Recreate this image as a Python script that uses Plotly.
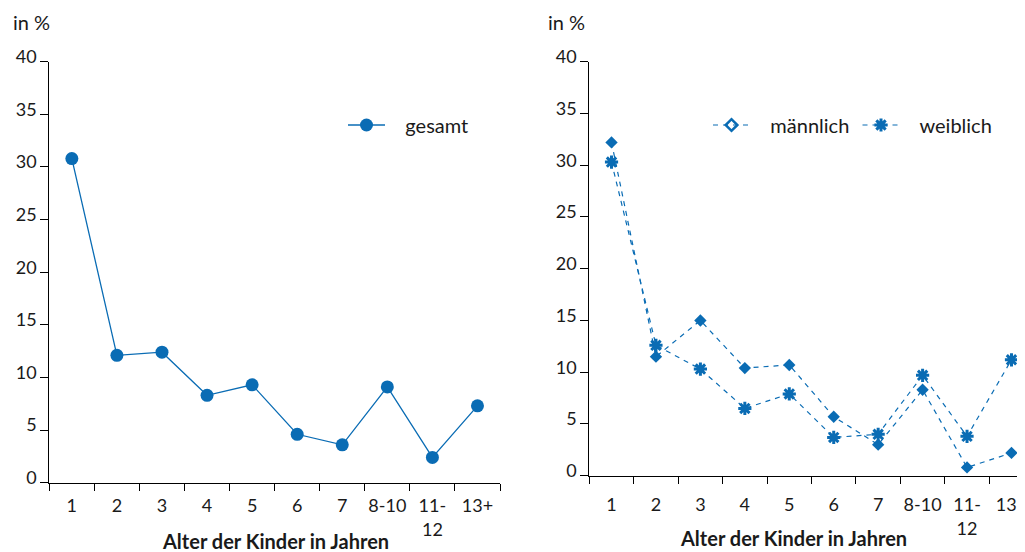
import plotly.graph_objects as go

# page body has an 8px margin, so the figure is sized to fill the rest of the window
OFF = 8
W, H = 1025 - OFF, 552 - OFF

categories = ["1", "2", "3", "4", "5", "6", "7", "8-10", "11-<br>12", "13+"]
gesamt = [30.8, 12.1, 12.4, 8.3, 9.3, 4.6, 3.6, 9.1, 2.4, 7.3]
maennlich = [32.2, 11.5, 15.0, 10.4, 10.7, 5.7, 3.0, 8.3, 0.8, 2.2]
weiblich = [30.3, 12.6, 10.3, 6.5, 7.9, 3.7, 4.0, 9.7, 3.8, 11.2]
y_ticks = [0, 5, 10, 15, 20, 25, 30, 35, 40]

BLUE = "#0a6cb4"
TXT = "#1a1a1a"
FONT = "Lato"
GAP = "\u00a0\u00a0\u00a0"  # visual gap between legend symbol and label

def px_x(p):
    return (p - OFF) / W

def px_y(p):
    return 1 - (p - OFF) / H

fig = go.Figure()

fig.add_trace(go.Scatter(
    x=categories, y=gesamt, name=GAP + "gesamt", mode="lines+markers",
    line=dict(color=BLUE, width=1.3),
    marker=dict(symbol="circle", size=13, color=BLUE),
    xaxis="x", yaxis="y", legend="legend", showlegend=True,
))

fig.add_trace(go.Scatter(
    x=categories, y=maennlich, name="männlich", mode="lines+markers",
    line=dict(color=BLUE, width=1.2, dash="5px,5px"),
    marker=dict(symbol="diamond", size=9.5, color=BLUE),
    xaxis="x2", yaxis="y2", showlegend=False,
))
fig.add_trace(go.Scatter(
    x=categories, y=weiblich, name="weiblich", mode="lines+markers",
    line=dict(color=BLUE, width=1.2, dash="5px,5px"),
    marker=dict(symbol="asterisk", size=11, color=BLUE,
                line=dict(color=BLUE, width=3)),
    xaxis="x2", yaxis="y2", showlegend=False,
))
# legend entries for the right panel
fig.add_trace(go.Scatter(
    x=[None], y=[None], name=GAP + "männlich", mode="lines+markers",
    line=dict(color=BLUE, width=1.2, dash="5px,5px"),
    marker=dict(symbol="diamond-open", size=9, color=BLUE,
                line=dict(color=BLUE, width=2.5)),
    xaxis="x2", yaxis="y2", legend="legend2", showlegend=True,
))
fig.add_trace(go.Scatter(
    x=[None], y=[None], name=GAP + "weiblich", mode="lines+markers",
    line=dict(color=BLUE, width=1.2, dash="5px,5px"),
    marker=dict(symbol="asterisk", size=11, color=BLUE,
                line=dict(color=BLUE, width=3)),
    xaxis="x2", yaxis="y2", legend="legend3", showlegend=True,
))

xcommon = dict(
    type="category", showline=True, linecolor="black", linewidth=1,
    ticks="outside", ticklen=7, tickcolor="black", tickson="boundaries",
    showgrid=False, zeroline=False, fixedrange=True, tickangle=0,
    automargin=False, ticklabeloverflow="allow",
    tickfont=dict(family=FONT, size=18, color=TXT),
    categoryorder="array", categoryarray=categories,
)
ycommon = dict(
    range=[0, 40], tickvals=y_ticks, showline=True, linecolor="black",
    linewidth=1, ticks="outside", ticklen=8, tickcolor="black",
    showgrid=False, zeroline=False, fixedrange=True, automargin=False,
    tickfont=dict(family=FONT, size=18, color=TXT),
    ticklabelshift=-5, ticklabelstandoff=0,
)

left_x0, left_x1 = 49.3, 500.0
right_x0 = 589.3
cat_w_right = 44.44
right_end = -0.5 + (1025 - right_x0) / cat_w_right

legfont = dict(family=FONT, size=20, color=TXT)
legcommon = dict(xanchor="left", yanchor="middle", itemwidth=37,
                 bgcolor="rgba(0,0,0,0)", font=legfont)
fig.update_layout(
    width=W, height=H,
    margin=dict(l=0, r=0, t=0, b=0, pad=0, autoexpand=False),
    paper_bgcolor="white", plot_bgcolor="white",
    font=dict(family=FONT, color=TXT, size=20),
    xaxis=dict(domain=[px_x(left_x0), px_x(left_x1)], range=[-0.5, 9.5],
               anchor="y", ticklabelstandoff=7, **xcommon),
    yaxis=dict(domain=[px_y(482.7), px_y(61.7)], anchor="x", **ycommon),
    xaxis2=dict(domain=[px_x(right_x0), 1.0], range=[-0.5, right_end],
                anchor="y2", ticklabelstandoff=13, **xcommon),
    yaxis2=dict(domain=[px_y(475.7), px_y(61.7)], anchor="x2", **ycommon),
    legend=dict(x=px_x(343), y=px_y(125), **legcommon),
    legend2=dict(x=px_x(708), y=px_y(125), **legcommon),
    legend3=dict(x=px_x(857.5), y=px_y(125), **legcommon),
    showlegend=True,
)

annots = [
    dict(text="in %", x=px_x(31), y=px_y(22)),
    dict(text="in %", x=px_x(566), y=px_y(22)),
    dict(text="<b>Alter der Kinder in Jahren</b>", x=px_x(275), y=px_y(541)),
    dict(text="<b>Alter der Kinder in Jahren</b>", x=px_x(793), y=px_y(538)),
]
for a in annots:
    fig.add_annotation(xref="paper", yref="paper", showarrow=False,
                       xanchor="center", yanchor="middle",
                       font=dict(family=FONT, size=20, color=TXT), **a)

fig.write_html("out.html")
